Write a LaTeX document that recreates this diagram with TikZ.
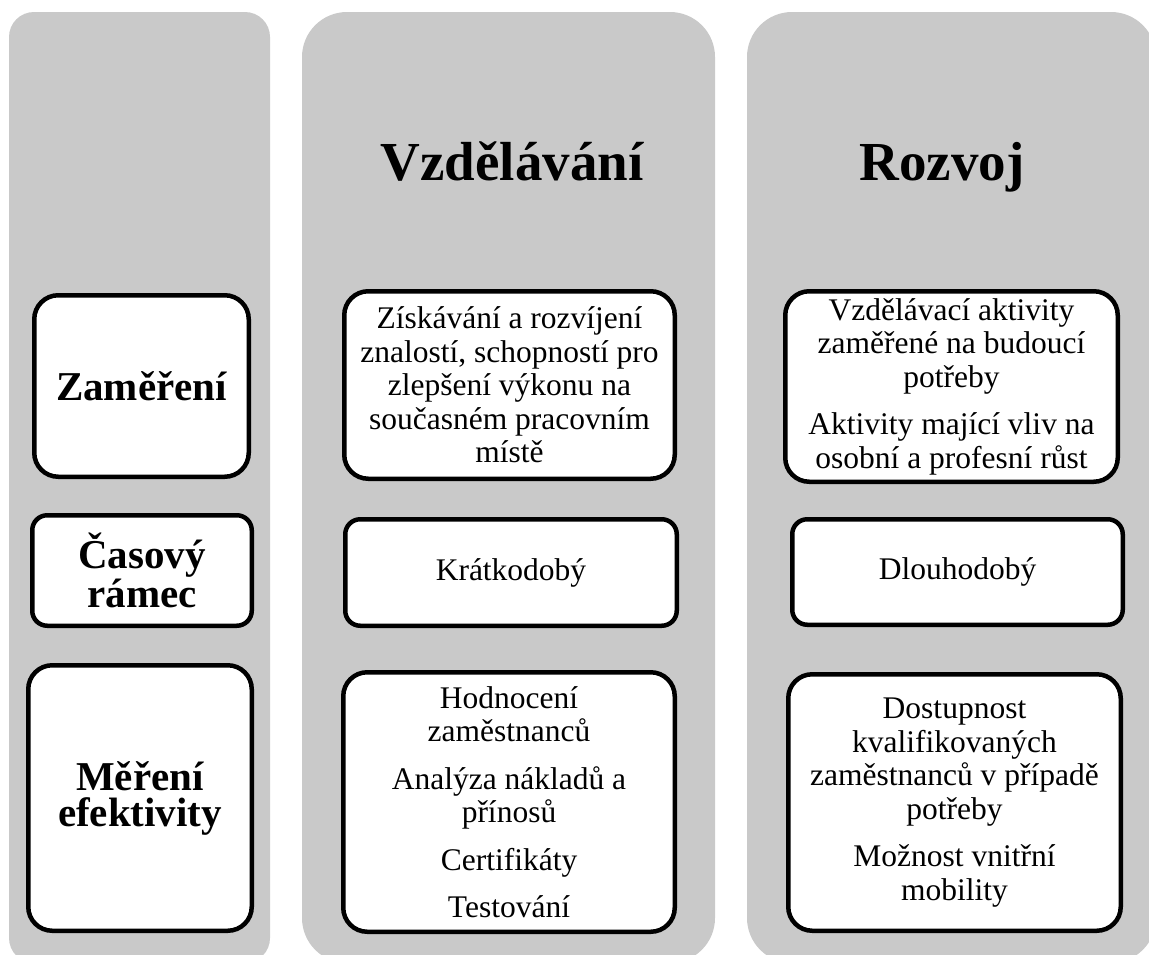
\documentclass[tikz,border=0pt]{standalone}
\usepackage{fontspec}
\setmainfont{Liberation Serif}
\definecolor{colgray}{RGB}{201,201,201}
\begin{document}
\begin{tikzpicture}[x=1pt,y=-1pt,
  colbg/.style={fill=colgray,draw=none},
  cell/.style={draw=black,fill=white,line width=4.5pt,rounded corners=#1,
    align=center,inner sep=0pt},
  cell/.default=24pt,
  bodytext/.style={font=\fontsize{31.5}{33.5}\selectfont},
  rowhead/.style={font=\bfseries\fontsize{41}{36}\selectfont},
  colhead/.style={font=\bfseries\fontsize{55}{60}\selectfont,anchor=base,inner sep=0pt}
]
\useasboundingbox (0,0) rectangle (1149,954);
\clip (0,0) rectangle (1149,954);

% column backgrounds
\fill[colbg,rounded corners=25pt] (9,12) rectangle (270,963);
\fill[colbg,rounded corners=45pt] (302,12) rectangle (715,963);
\fill[colbg,rounded corners=45pt] (747,12) rectangle (1156,963);

% column headings
\node[colhead] (hvzd) at (512,180) {Vzdělávání};
\node[colhead] (hroz) at (942,180) {Rozvoj};

% row headings
\node[cell,rowhead,minimum width=214.5pt,minimum height=181.5pt] (zam) at (141.5,386) {Zaměření};
\node[cell=15pt,rowhead,minimum width=219.5pt,minimum height=110.5pt] (cas) at (142,570.5) {Časový\\rámec};
\node[cell,rowhead,minimum width=223.5pt,minimum height=265.5pt] (mer) at (140,798) {Měření\\efektivity};

% education column
\node[cell,bodytext,minimum width=330.5pt,minimum height=187.5pt] (mzis) at (509.5,385)
  {Získávání a rozvíjení\\znalostí, schopností pro\\zlepšení výkonu na\\současném pracovním\\místě};
\node[cell=15pt,bodytext,minimum width=331.5pt,minimum height=106.5pt] (mkrat) at (511,572.5) {Krátkodobý};
\node[cell,bodytext,minimum width=331.5pt,minimum height=259.5pt] (mhod) at (509,802)
  {Hodnocení\\zaměstnanců\\[14pt]Analýza nákladů a\\přínosů\\[14pt]Certifikáty\\[14pt]Testování};

% development column
\node[cell,bodytext,minimum width=332.5pt,minimum height=190.5pt] (rvzd) at (951.5,386.5)
  {Vzdělávací aktivity\\zaměřené na budoucí\\potřeby\\[14pt]Aktivity mající vliv na\\osobní a profesní růst};
\node[cell=15pt,bodytext,minimum width=330.5pt,minimum height=105.5pt] (rdlo) at (957.5,572) {Dlouhodobý};
\node[cell,bodytext,minimum width=332.5pt,minimum height=256.5pt] (rdos) at (954.5,802.5)
  {Dostupnost\\kvalifikovaných\\zaměstnanců v případě\\potřeby\\[14pt]Možnost vnitřní\\mobility};
\end{tikzpicture}
\end{document}
